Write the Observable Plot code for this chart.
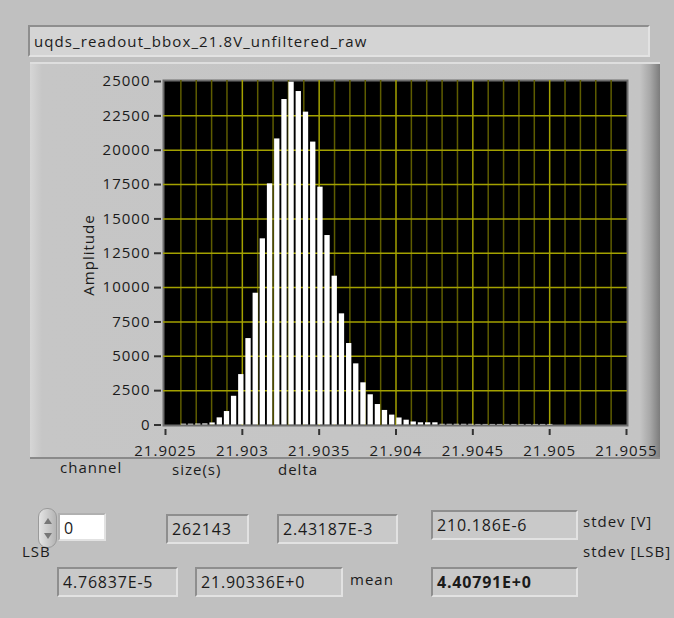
<!DOCTYPE html>
<html>
<head>
<meta charset="utf-8">
<script src="https://cdn.jsdelivr.net/npm/d3@7"></script>
<script src="https://cdn.jsdelivr.net/npm/@observablehq/plot@0.6"></script>
<style>
  html, body { margin: 0; padding: 0; background: #c0c0c0; }
  #panel {
    position: relative; width: 674px; height: 618px; overflow: hidden;
    background: #c0c0c0; font-family: "Open Sans", "Noto Sans", sans-serif;
    color: #1b1b1b; font-size: 15px; letter-spacing: 1px;
  }
  .abs { position: absolute; white-space: nowrap; }
  .sunken {
    position: absolute; box-sizing: border-box;
    background: #c9c9c9;
    border-top: 2px solid #8e8e8e; border-left: 2px solid #8e8e8e;
    border-bottom: 2px solid #e2e2e2; border-right: 2px solid #e2e2e2;
    padding-left: 4px; line-height: 26px; white-space: nowrap;
    font-size: 16px; letter-spacing: 0.8px;
  }
  #titlebox {
    left: 28px; top: 25px; width: 622px; height: 32px; line-height: 28px;
    background: #d4d4d4; padding-left: 4px; font-size: 15px; letter-spacing: 1.1px;
  }
  #frame {
    position: absolute; left: 30px; top: 62px; width: 630px; height: 397px;
    box-sizing: border-box;
    background: linear-gradient(to right, #d6d6d6 0px, #c6c6c6 12px, #c4c4c4 610px, #a8a8a8 620px, #7c7c7c 630px);
    border-top: 2px solid #dedede; border-bottom: 2px solid #8a8a8a;
  }
  #plot { position: absolute; left: 30px; top: 62px; }
  #ylabel {
    position: absolute; left: 88px; top: 255px;
    transform: translate(-50%, -50%) rotate(-90deg);
    white-space: nowrap; font-size: 15px;
  }
  #spin {
    position: absolute; left: 38px; top: 508px; width: 19px; height: 40px;
    box-sizing: border-box; border-radius: 9px;
    background: linear-gradient(to right, #e4e4e4, #b4b4b4);
    border: 1px solid #9a9a9a;
  }
  .tri { position: absolute; left: 5px; width: 0; height: 0;
         border-left: 4px solid transparent; border-right: 4px solid transparent; }
</style>
</head>
<body>
<div id="panel">
  <div id="titlebox" class="sunken"></div>
  <div id="frame"></div>
  <div id="plot"></div>
  <div id="ylabel">Amplitude</div>
  <div id="spin">
    <div class="tri" style="top:9px;border-bottom:6px solid #777;"></div>
    <div class="tri" style="top:24px;border-top:6px solid #777;"></div>
  </div>
  <div id="readouts"></div>
</div>
<script>
// Histogram of the raw readout: lower edge of each bin (V) and its count
const binStart = [
  21.902602, 21.902649, 21.902696, 21.902742, 21.902789, 21.902836, 21.902883, 21.902929,
  21.902976, 21.903023, 21.903070, 21.903116, 21.903163, 21.903210, 21.903257, 21.903303,
  21.903350, 21.903397, 21.903444, 21.903491, 21.903537, 21.903584, 21.903631, 21.903678,
  21.903724, 21.903771, 21.903818, 21.903865, 21.903911, 21.903958, 21.904005, 21.904052,
  21.904098, 21.904145, 21.904192, 21.904239, 21.904286, 21.904332, 21.904379, 21.904426,
  21.904473, 21.904519, 21.904566, 21.904613, 21.904660, 21.904706, 21.904753, 21.904800,
  21.904847, 21.904893, 21.904940, 21.904987
];
const counts = [
  60, 60, 70, 80, 150, 520, 980, 2090,
  3670, 6290, 9590, 13550, 17550, 20820, 23690, 24950,
  24270, 22770, 20590, 17310, 13790, 10830, 8090, 5930,
  4450, 3070, 2200, 1490, 1060, 720, 510, 350,
  220, 160, 160, 160, 50, 50, 50, 50,
  50, 40, 40, 40, 40, 40, 40, 40,
  40, 40, 40, 40
];

// Axis ticks
const xTicks = [21.9025, 21.903, 21.9035, 21.904, 21.9045, 21.905, 21.9055];
const xTickLabels = ["21.9025", "21.903", "21.9035", "21.904", "21.9045", "21.905", "21.9055"];
const yTicks = [0, 2500, 5000, 7500, 10000, 12500, 15000, 17500, 20000, 22500, 25000];

// Front-panel text
const graphTitle = "uqds_readout_bbox_21.8V_unfiltered_raw";
const yLabel = "Amplitude";
const fieldLabels = ["channel", "size(s)", "delta", "stdev [V]", "LSB", "mean", "stdev [LSB]"];
const fieldValues = ["0", "262143", "2.43187E-3", "210.186E-6", "4.76837E-5", "21.90336E+0", "4.40791E+0"];

document.getElementById("titlebox").textContent = graphTitle;
document.getElementById("ylabel").textContent = yLabel;

const binWidth = binStart[1] - binStart[0];
const bins = binStart.map((x, i) => ({x1: x, x2: x + binWidth, count: counts[i]}));

// Grid: minor every 0.0001 V, major at the labelled ticks
const minorX = d3.range(21.9026, 21.90545, 0.0001).filter(v => !xTicks.some(t => Math.abs(t - v) < 1e-6));
const gridYellow = "#a3a100";
const gridDim = "#5e5c00";

const chart = Plot.plot({
  width: 630,
  height: 405,
  marginLeft: 133,
  marginRight: 33,
  marginTop: 18,
  marginBottom: 42,
  style: {background: "transparent", fontFamily: "Open Sans, Noto Sans, sans-serif", fontSize: "15px",
          letterSpacing: "1px", color: "#1b1b1b", overflow: "visible"},
  x: {domain: [21.9025, 21.9055], range: [135, 596]},
  y: {domain: [0, 25000], range: [362.5, 19]},
  marks: [
    Plot.frame({fill: "black", stroke: "#6e6e6e", strokeWidth: 2}),
    Plot.ruleX(minorX, {stroke: gridDim, strokeWidth: 1.5}),
    Plot.ruleX(xTicks.slice(1, -1), {stroke: gridYellow, strokeWidth: 1.5}),
    Plot.ruleY(yTicks.slice(1, -1), {stroke: gridYellow, strokeWidth: 1.5}),
    Plot.rectY(bins, {x1: "x1", x2: "x2", y: "count", fill: "white", insetRight: 1.9}),
    Plot.axisY({ticks: yTicks, tickSize: 7, tickPadding: 4, dx: -2, label: null,
                tickFormat: d => String(d), stroke: "#333", strokeWidth: 2}),
    Plot.axisX({ticks: xTicks, tickSize: 6, tickPadding: 10, dy: 4, label: null,
                tickFormat: (d, i) => xTickLabels[i], stroke: "#333", strokeWidth: 2})
  ]
});
document.getElementById("plot").appendChild(chart);

// Numeric indicators below the graph
const ro = document.getElementById("readouts");
function label(text, left, top) {
  const d = document.createElement("div");
  d.className = "abs"; d.style.left = left + "px"; d.style.top = top + "px";
  d.textContent = text; ro.appendChild(d);
}
function box(text, left, top, w, h, extra) {
  const d = document.createElement("div");
  d.className = "sunken";
  Object.assign(d.style, {left: left + "px", top: top + "px", width: w + "px", height: h + "px"}, extra || {});
  d.textContent = text; ro.appendChild(d);
}
label(fieldLabels[0], 60, 457);
label(fieldLabels[1], 172, 459);
label(fieldLabels[2], 278, 459);
label(fieldLabels[3], 583, 511);
label(fieldLabels[4], 22, 541);
label(fieldLabels[5], 350, 569);
label(fieldLabels[6], 583, 541);

box(fieldValues[0], 58, 513, 48, 28, {background: "#ffffff", borderTop: "2px solid #b0b0b0", borderLeft: "2px solid #b0b0b0"});
box(fieldValues[1], 166, 514, 83, 30);
box(fieldValues[2], 277, 514, 121, 30);
box(fieldValues[3], 431, 510, 147, 30);
box(fieldValues[4], 57, 567, 121, 30);
box(fieldValues[5], 195, 567, 148, 30);
box(fieldValues[6], 431, 567, 147, 30, {fontWeight: "bold"});
</script>
</body>
</html>
